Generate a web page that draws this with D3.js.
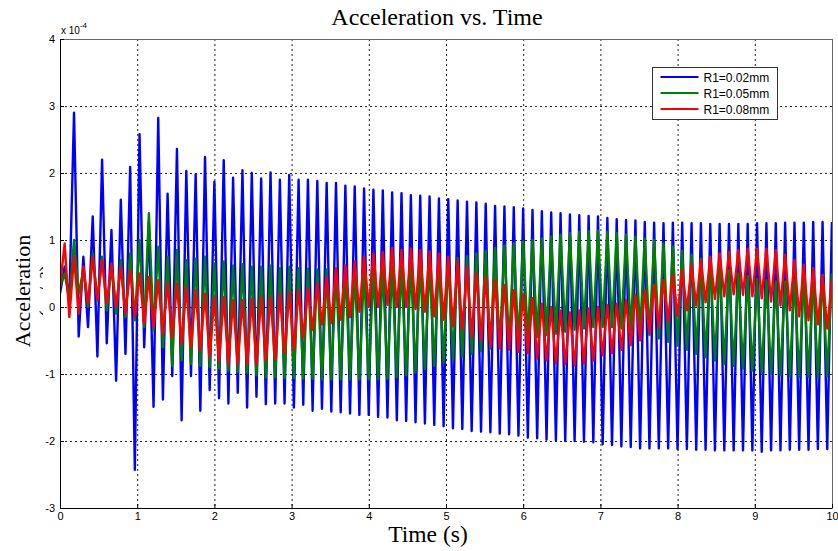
<!DOCTYPE html>
<html>
<head>
<meta charset="utf-8">
<script src="https://cdn.jsdelivr.net/npm/d3@7"></script>
<style>
  body { margin: 0; background: #fff; }
  svg { display: block; font-family: "Liberation Sans", Arial, sans-serif; }
  .grid line { stroke: #222; stroke-width: 1; stroke-dasharray: 2,3; }
  .trace { fill: none; stroke-width: 2.4; stroke-linejoin: round; }
  .tick text { font-size: 11px; fill: #000; }
  .tick line { stroke: #000; }
</style>
</head>
<body>
<svg id="chart" width="838" height="551"></svg>
<script>
// axis ticks (values are in units of 1e-4 m/s^2)
const xTicks = [0, 1, 2, 3, 4, 5, 6, 7, 8, 9, 10];
const yTicks = [-3, -2, -1, 0, 1, 2, 3, 4];

const seriesNames = ["R1=0.02mm", "R1=0.05mm", "R1=0.08mm"];
const seriesColors = ["#0000ff", "#008000", "#ff0000"];

// the signals oscillate on a fixed time step: first crest and half period (s)
const firstCrest = 0.0604;
const halfPeriod = 0.0606;
const startValues = [0.2, 0.3, 0.3];

// crest / trough values, one per half cycle
const blueCrests = [0.6, 2.9, 0.75, 1.35, 2.2, 1.15, 1.6, 2.09, 2.58, 1.27, 2.82, 1.69, 2.36, 2.03, 1.98, 2.24, 1.87, 2.19, 1.93, 2.04, 2.0, 1.92, 2.01, 1.9, 1.97,
  1.9, 1.9, 1.88, 1.85, 1.85, 1.81, 1.8, 1.77, 1.75, 1.74,
  1.71, 1.70, 1.67, 1.66, 1.65, 1.62, 1.61, 1.59, 1.57, 1.56,
  1.54, 1.51, 1.50, 1.49, 1.47, 1.45, 1.43, 1.41, 1.40, 1.38,
  1.37, 1.36, 1.35, 1.33, 1.31, 1.30, 1.29, 1.27, 1.26, 1.25,
  1.26, 1.26, 1.25, 1.25, 1.24, 1.24, 1.24, 1.24, 1.24, 1.25,
  1.25, 1.25, 1.26, 1.26, 1.26, 1.27, 1.27, 1.27];
const blueTroughs = [0.1, -0.44, -0.3, -0.74, -0.54, -1.10, -0.7, -2.43, -0.6, -1.49, -1.38, -1.03, -1.69, -1.03, -1.55, -1.24, -1.36, -1.44, -1.28, -1.50, -1.34, -1.45, -1.44, -1.44,
  -1.50, -1.46, -1.55, -1.52, -1.56, -1.57, -1.59, -1.61, -1.61, -1.64,
  -1.65, -1.69, -1.70, -1.72, -1.74, -1.76, -1.78, -1.81, -1.82, -1.85,
  -1.86, -1.87, -1.89, -1.90, -1.92, -1.95, -1.96, -1.98, -1.99, -2.0,
  -2.0, -2.01, -2.02, -2.05, -2.06, -2.08, -2.09, -2.11, -2.11, -2.11,
  -2.11, -2.12, -2.12, -2.13, -2.13, -2.14, -2.14, -2.14, -2.14, -2.14,
  -2.16, -2.14, -2.14, -2.13, -2.13, -2.13, -2.12, -2.12];

const greenCrests = [0.5, 1.0, 0.55, 0.8, 0.75, 0.6, 0.7, 0.8, 1.0, 1.4, 0.9, 0.75, 0.85, 0.7, 0.72, 0.75, 0.65, 0.68, 0.62, 0.64, 0.6, 0.6, 0.62, 0.58, 0.6,
  0.58, 0.57, 0.56, 0.56, 0.55, 0.55, 0.55, 0.56, 0.57, 0.58,
  0.6, 0.62, 0.63, 0.65, 0.66, 0.68, 0.7, 0.73, 0.76, 0.8,
  0.84, 0.88, 0.92, 0.95, 0.98, 1.0, 1.02, 1.05, 1.08, 1.1,
  1.12, 1.13, 1.14, 1.12, 1.1, 1.08, 1.05, 1.02, 1.0, 0.95,
  0.9, 0.84, 0.78, 0.72, 0.66, 0.6, 0.55, 0.5, 0.46, 0.42,
  0.4, 0.38, 0.38, 0.4, 0.42, 0.45, 0.48, 0.5];
const greenTroughs = [0.1, 0.2, 0.0, 0.1, -0.05, -0.1, -0.15, -0.2, -0.3, -0.35, -0.6, -0.88, -0.8, -0.85, -0.88, -0.9, -0.92, -0.95, -0.97, -0.98, -1.02, -1.05, -1.05, -1.06,
  -1.06, -1.07, -1.07, -1.08, -1.08, -1.08, -1.08, -1.08, -1.08, -1.08,
  -1.07, -1.05, -1.02, -0.98, -0.93, -0.88, -0.83, -0.78, -0.74, -0.7,
  -0.66, -0.62, -0.58, -0.55, -0.52, -0.48, -0.45, -0.42, -0.4, -0.37,
  -0.34, -0.32, -0.3, -0.3, -0.3, -0.32, -0.35, -0.38, -0.42, -0.47,
  -0.52, -0.58, -0.64, -0.7, -0.75, -0.8, -0.85, -0.88, -0.92, -0.95,
  -0.98, -1.0, -1.02, -1.03, -1.04, -1.04, -1.04, -1.03];

const redCrests = [0.95, 0.75, 0.6, 0.75, 0.7, 0.65, 0.6, 0.55, 0.5, 0.45, 0.4, 0.35, 0.35, 0.3, 0.25, 0.2, 0.15, 0.15, 0.1, 0.1, 0.12, 0.15, 0.15, 0.2, 0.22,
  0.25, 0.28, 0.35, 0.45, 0.58, 0.62, 0.68, 0.75, 0.8, 0.82,
  0.88, 0.85, 0.87, 0.85, 0.83, 0.8, 0.75, 0.68, 0.6, 0.5,
  0.45, 0.4, 0.33, 0.25, 0.2, 0.13, 0.05, 0.0, -0.05, -0.08,
  -0.05, -0.02, 0.0, 0.03, 0.05, 0.1, 0.18, 0.25, 0.33, 0.4,
  0.48, 0.55, 0.63, 0.7, 0.75, 0.8, 0.82, 0.85, 0.87, 0.87,
  0.87, 0.85, 0.78, 0.7, 0.63, 0.58, 0.48, 0.4];
const redTroughs = [-0.15, -0.1, 0.05, 0.1, 0.05, 0.0, -0.1, -0.15, -0.25, -0.3, -0.4, -0.45, -0.55, -0.6, -0.65, -0.75, -0.8, -0.85, -0.85, -0.85, -0.85, -0.8, -0.78, -0.69,
  -0.64, -0.45, -0.34, -0.26, -0.24, -0.19, -0.15, -0.07, 0.0, 0.0,
  0.03, 0.0, 0.0, -0.03, -0.07, -0.14, -0.19, -0.29, -0.34, -0.44,
  -0.5, -0.59, -0.62, -0.64, -0.67, -0.69, -0.77, -0.8, -0.84, -0.85,
  -0.87, -0.84, -0.8, -0.72, -0.69, -0.64, -0.57, -0.5, -0.4, -0.3,
  -0.22, -0.14, -0.05, 0.02, 0.07, 0.12, 0.16, 0.19, 0.18, 0.16,
  0.13, 0.08, 0.02, -0.05, -0.14, -0.2, -0.26, -0.32];

const crestLists = [blueCrests, greenCrests, redCrests];
const troughLists = [blueTroughs, greenTroughs, redTroughs];

const svg = d3.select("#chart");
const plotLeft = 60, plotRight = 832, plotTop = 39, plotBottom = 508;

const x = d3.scaleLinear().domain([0, 10]).range([plotLeft, plotRight]);
const y = d3.scaleLinear().domain([-3, 4]).range([plotBottom, plotTop]);

// y label first, so the plot can sit over its second line
const serif = "Liberation Serif, Times New Roman, serif";
svg.append("text")
  .attr("transform", "translate(30,291) rotate(-90)")
  .attr("text-anchor", "middle")
  .attr("font-family", serif).attr("font-size", 22)
  .text("Acceleration");
svg.append("clipPath").attr("id", "ylabclip")
  .append("rect").attr("x", 0).attr("y", 0).attr("width", 43).attr("height", 551);
svg.append("g").attr("clip-path", "url(#ylabclip)")
  .append("text")
  .attr("transform", "translate(54,291) rotate(-90)")
  .attr("text-anchor", "middle")
  .attr("font-family", serif).attr("font-size", 22)
  .text("(m/s²)");

// grid
const grid = svg.append("g").attr("class", "grid");
grid.selectAll("line.v")
  .data(xTicks.slice(1, -1))
  .enter().append("line")
  .attr("x1", d => x(d) + 0.5).attr("x2", d => x(d) + 0.5)
  .attr("y1", plotTop).attr("y2", plotBottom);
grid.selectAll("line.h")
  .data(yTicks.slice(1, -1))
  .enter().append("line")
  .attr("x1", plotLeft).attr("x2", plotRight)
  .attr("y1", d => y(d) + 0.5).attr("y2", d => y(d) + 0.5);

// traces
svg.append("clipPath").attr("id", "plotclip")
  .append("rect").attr("x", plotLeft).attr("y", plotTop)
  .attr("width", plotRight - plotLeft).attr("height", plotBottom - plotTop);

function buildTrace(i) {
  const pts = [[0, startValues[i]]];
  const crests = crestLists[i], troughs = troughLists[i];
  crests.forEach(function(c, j) {
    pts.push([firstCrest + 2 * j * halfPeriod, c]);
    if (j < troughs.length) pts.push([firstCrest + (2 * j + 1) * halfPeriod, troughs[j]]);
  });
  return pts;
}

const line = d3.line().x(d => x(d[0])).y(d => y(d[1]));
svg.append("g").attr("clip-path", "url(#plotclip)")
  .selectAll("path.trace")
  .data(seriesNames.map((name, i) => buildTrace(i)))
  .enter().append("path")
  .attr("class", "trace")
  .attr("stroke", (d, i) => seriesColors[i])
  .attr("d", line);

// box
svg.append("line").attr("x1", plotLeft).attr("x2", plotRight).attr("y1", plotTop + 0.5).attr("y2", plotTop + 0.5)
  .attr("stroke", "#666");
svg.append("line").attr("x1", plotRight + 0.5).attr("x2", plotRight + 0.5).attr("y1", plotTop).attr("y2", plotBottom)
  .attr("stroke", "#666");

// axes
const fmt = d => String(d);
const xAxis = d3.axisBottom(x).tickValues(xTicks).tickFormat(fmt).tickSizeInner(-4).tickSizeOuter(0).tickPadding(4);
const yAxis = d3.axisLeft(y).tickValues(yTicks).tickFormat(fmt).tickSizeInner(-4).tickSizeOuter(0).tickPadding(5);
const gx = svg.append("g").attr("transform", `translate(0,${plotBottom})`).call(xAxis);
const gy = svg.append("g").attr("transform", `translate(${plotLeft},0)`).call(yAxis);
gx.select(".domain").attr("stroke", "#000");
gy.select(".domain").attr("stroke", "#000");
gx.selectAll("text").attr("font-family", "Liberation Sans, Arial, sans-serif");
gy.selectAll("text").attr("font-family", "Liberation Sans, Arial, sans-serif");

// exponent label
const expo = svg.append("text").attr("x", 61).attr("y", 34)
  .attr("font-size", 10).attr("fill", "#000");
expo.append("tspan").text("x 10");
expo.append("tspan").attr("dy", -6).attr("font-size", 8).text("-4");

// titles
svg.append("text").attr("x", 437).attr("y", 25)
  .attr("text-anchor", "middle")
  .attr("font-family", serif)
  .attr("font-size", 24).text("Acceleration vs. Time");

svg.append("text").attr("x", 428).attr("y", 542)
  .attr("text-anchor", "middle")
  .attr("font-family", serif)
  .attr("font-size", 23.5).text("Time (s)");

// legend
const legend = svg.append("g").attr("transform", "translate(652.5,67.5)");
legend.append("rect").attr("width", 125).attr("height", 52)
  .attr("fill", "#fff").attr("stroke", "#333");
const item = legend.selectAll("g.item")
  .data(seriesNames)
  .enter().append("g")
  .attr("transform", (d, i) => `translate(0,${9.5 + i * 16})`);
item.append("line").attr("x1", 8).attr("x2", 46)
  .attr("stroke", (d, i) => seriesColors[i]).attr("stroke-width", 2);
item.append("text").attr("x", 51).attr("y", 4.5)
  .attr("font-size", 12).attr("fill", "#000").text(d => d);
</script>
</body>
</html>
